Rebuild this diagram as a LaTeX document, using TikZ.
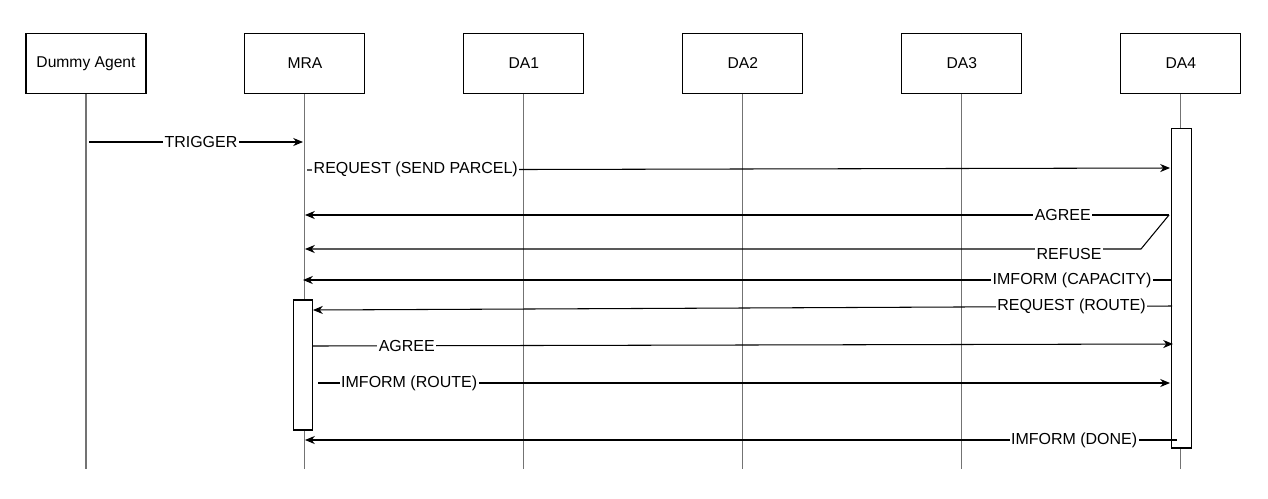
\documentclass[tikz,border=0pt]{standalone}
\usepackage{fontspec}
\setmainfont{Liberation Sans}
\usetikzlibrary{arrows.meta,positioning}

\tikzstyle{agent} = [rectangle, minimum width=2.4cm, minimum height=1.2cm, text centered, draw=black, fill=white, line width=0.6pt, font=\fontsize{8.9}{10}\selectfont]
\tikzstyle{activation} = [rectangle, minimum width=0.39cm, draw=black, fill=white, line width=0.6pt, inner sep=0pt]
\tikzstyle{lifeline} = [draw=black!55, line width=0.6pt]
\tikzstyle{msg} = [->, >={Stealth[length=5.6pt,width=4.6pt]}, line width=0.6pt]
\tikzstyle{msglabel} = [fill=white, inner sep=0.8pt, font=\fontsize{9.1}{10}\selectfont]

\begin{document}
\begin{tikzpicture}[x=0.02cm, y=-0.02cm, node distance=4.38cm]
		\useasboundingbox (0,0) rectangle (1268,498);
		% Nodes
		\node (dummy) [agent] at (86,63.5) {Dummy Agent};
		\node (mra) [agent, right of=dummy] {MRA};
		\node (da1) [agent, right of=mra] {DA1};
		\node (da2) [agent, right of=da1] {DA2};
		\node (da3) [agent, right of=da2] {DA3};
		\node (da4) [agent, right of=da3] {DA4};
		% Lifelines
		\foreach \a in {dummy,mra,da1,da2,da3,da4} {
			\coordinate (\a end) at (\a.center |- 0,469);
			\draw [lifeline] (\a.south) -- (\a end);
		}
		% Activation bars
		\node (actmra) [activation, minimum height=2.6cm] at (303,365) {};
		\node (actda4) [activation, minimum height=6.4cm] at (1181.5,288) {};
		% Message end points
		\coordinate (trigA) at (89,142);
		\coordinate (trigB) at (303,142);
		\coordinate (sendA) at (307,170);
		\coordinate (sendB) at (1170,168);
		\coordinate (agreeA) at (1169,215);
		\coordinate (agreeB) at (305,215);
		\coordinate (refuseK) at (1141,249);
		\coordinate (refuseB) at (305,249);
		\coordinate (capA) at (1172,280);
		\coordinate (capB) at (303,280);
		\coordinate (routeA) at (1172,306);
		\coordinate (routeB) at (313,310);
		\coordinate (okA) at (313,346);
		\coordinate (okB) at (1173,344);
		\coordinate (infoA) at (318,383);
		\coordinate (infoB) at (1170,383);
		\coordinate (doneA) at (1177,440);
		\coordinate (doneB) at (305,440);
		% Arrows
		\draw [msg] (trigA) -- node [msglabel, pos=0.523] {TRIGGER} (trigB);
		\draw [msg] (sendA) -- node [msglabel, pos=0.126] {REQUEST (SEND PARCEL)} (sendB);
		\draw [msg] (agreeA) -- node [msglabel, pos=0.123] {AGREE} (agreeB);
		\draw [msg] (agreeA) -- (refuseK) -- node [msglabel, pos=0.086, yshift=-3pt] {REFUSE} (refuseB);
		\draw [msg] (capA) -- node [msglabel, pos=0.115] {IMFORM (CAPACITY)} (capB);
		\draw [msg] (routeA) -- node [msglabel, pos=0.117] {REQUEST (ROUTE)} (routeB);
		\draw [msg] (okA) -- node [msglabel, pos=0.109] {AGREE} (okB);
		\draw [msg] (infoA) -- node [msglabel, pos=0.107] {IMFORM (ROUTE)} (infoB);
		\draw [msg] (doneA) -- node [msglabel, pos=0.118] {IMFORM (DONE)} (doneB);
	\end{tikzpicture}
\end{document}
